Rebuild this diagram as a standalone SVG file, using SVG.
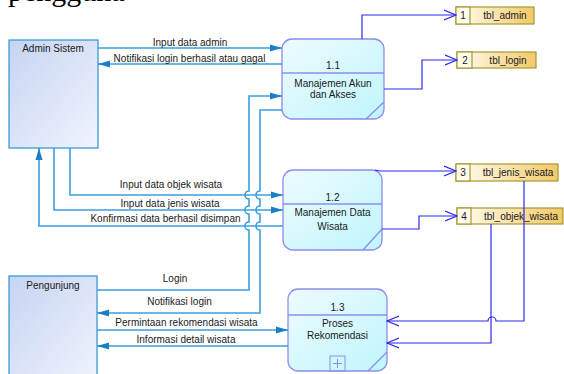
<svg xmlns="http://www.w3.org/2000/svg" width="564" height="374" viewBox="0 0 564 374">
<style>
text{font-family:"Liberation Sans",Arial,sans-serif;font-size:10px;fill:#1a1a1a}
.c{text-anchor:middle}
.ent{stroke:#3a9ad8;stroke-width:1.3}
.proc{stroke:#8c8cf0;stroke-width:1.3}
.store{stroke:#a39a34;stroke-width:1.2}
.ef{fill:none;stroke:#3a9ee0;stroke-width:1.6}
.sf{fill:none;stroke:#2a2af0;stroke-width:1.2}
</style>
<defs>
<linearGradient id="gEnt" x1="0" y1="0" x2="1" y2="1">
<stop offset="0" stop-color="#c6d4f2"/><stop offset="1" stop-color="#f0f4fd"/>
</linearGradient>
<linearGradient id="gProc" x1="0" y1="0" x2="1" y2="1">
<stop offset="0" stop-color="#eefbfe"/><stop offset="1" stop-color="#bff6fd"/>
</linearGradient>
<linearGradient id="gStore" x1="0" y1="0" x2="1" y2="0">
<stop offset="0" stop-color="#fffdf2"/><stop offset="1" stop-color="#f3c968"/>
</linearGradient>
<marker id="ah" markerWidth="12" markerHeight="8" refX="12" refY="4" orient="auto" markerUnits="userSpaceOnUse">
<path d="M0,0.5 L12,4 L0,7.5 z" fill="#1a7fc8"/>
</marker>
<marker id="ch" markerWidth="13" markerHeight="12" refX="12" refY="6" orient="auto" markerUnits="userSpaceOnUse">
<path d="M0,1 L12,6 L0,11" fill="none" stroke="#2a2af0" stroke-width="1.2"/>
</marker>
</defs>
<rect width="564" height="374" fill="#ffffff"/>
<text x="8" y="1" style="font-family:'Liberation Serif','Times New Roman',serif;font-size:30px;fill:#000">pengguna</text>

<g id="admin">
<rect class="ent" x="9" y="40" width="89" height="108" fill="url(#gEnt)"/>
<text class="c" x="53" y="51.5">Admin Sistem</text>
</g>
<g id="pengunjung">
<rect class="ent" x="9" y="276" width="88" height="110" fill="url(#gEnt)"/>
<text class="c" x="53" y="288.5">Pengunjung</text>
</g>

<g id="p11">
<rect class="proc" x="282" y="39" width="102" height="80" rx="10" fill="url(#gProc)"/>
<line class="proc" x1="282" y1="73" x2="384" y2="73"/>
<line class="proc" x1="384" y1="102" x2="366" y2="119"/>
<text class="c" x="333" y="68.5">1.1</text>
<text class="c" x="333" y="86.5">Manajemen Akun</text>
<text class="c" x="333" y="97.5">dan Akses</text>
</g>
<g id="p12">
<rect class="proc" x="283" y="170" width="99" height="80" rx="10" fill="url(#gProc)"/>
<line class="proc" x1="283" y1="204" x2="382" y2="204"/>
<line class="proc" x1="382" y1="229" x2="363" y2="250"/>
<text class="c" x="332.5" y="200.5">1.2</text>
<text class="c" x="332.5" y="215.5">Manajemen Data</text>
<text class="c" x="332.5" y="229.5">Wisata</text>
</g>
<g id="p13">
<rect class="proc" x="288" y="289" width="99" height="82" rx="10" fill="url(#gProc)"/>
<line class="proc" x1="288" y1="315" x2="387" y2="315"/>
<line class="proc" x1="387" y1="352" x2="368" y2="371"/>
<rect x="330" y="356" width="15" height="15" fill="none" stroke="#8c8cf0" stroke-width="1"/>
<path d="M337.5,359 V368 M333,363.5 H342" stroke="#8c8cf0" stroke-width="1"/>
<text class="c" x="337.5" y="310.5">1.3</text>
<text class="c" x="337.5" y="326.5">Proses</text>
<text class="c" x="337.5" y="338.5">Rekomendasi</text>
</g>

<g id="s1">
<rect class="store" x="456" y="7" width="78" height="17" fill="url(#gStore)"/>
<rect class="store" x="456" y="7" width="14" height="17" fill="#fffcee"/>
<text class="c" x="463" y="19">1</text>
<text class="c" x="505" y="19">tbl_admin</text>
</g>
<g id="s2">
<rect class="store" x="457" y="52" width="79" height="16" fill="url(#gStore)"/>
<rect class="store" x="457" y="52" width="15" height="16" fill="#fffcee"/>
<text class="c" x="465" y="63.5">2</text>
<text class="c" x="508" y="63.5">tbl_login</text>
</g>
<g id="s3">
<rect class="store" x="456" y="164" width="102" height="17" fill="url(#gStore)"/>
<rect class="store" x="456" y="164" width="14" height="17" fill="#fffcee"/>
<text class="c" x="463" y="176">3</text>
<text class="c" x="518" y="176">tbl_jenis_wisata</text>
</g>
<g id="s4">
<rect class="store" x="457" y="208" width="106" height="16" fill="url(#gStore)"/>
<rect class="store" x="457" y="208" width="14" height="16" fill="#fffcee"/>
<text class="c" x="464" y="219.5">4</text>
<text class="c" x="521" y="219.5">tbl_objek_wisata</text>
</g>

<g id="connectors">
<path class="ef" d="M98,48 H282" marker-end="url(#ah)"/>
<path class="ef" d="M282,64 H98" marker-end="url(#ah)"/>
<path class="ef" d="M70,148 V195 H283" marker-end="url(#ah)"/>
<path class="ef" d="M54,148 V210 H283" marker-end="url(#ah)"/>
<path class="ef" d="M283,226 H39 V148" marker-end="url(#ah)"/>
<path class="ef" d="M97,290 H249 V230 a4,4 0 0 1 0,-8 V214 a4,4 0 0 1 0,-8 V199 a4,4 0 0 1 0,-8 V96 H282" marker-end="url(#ah)"/>
<path class="ef" d="M282,110 H260 V191 a4,4 0 0 0 0,8 V206 a4,4 0 0 0 0,8 V222 a4,4 0 0 0 0,8 V313 H97" marker-end="url(#ah)"/>
<path class="ef" d="M97,330 H288" marker-end="url(#ah)"/>
<path class="ef" d="M288,346 H97" marker-end="url(#ah)"/>

<path class="sf" d="M362,39 V15 H456" marker-end="url(#ch)"/>
<path class="sf" d="M384,89 H422 V60 H457" marker-end="url(#ch)"/>
<path class="sf" d="M375,170 L380,171 H456" marker-end="url(#ch)"/>
<path class="sf" d="M382,229 H419 V216 H457" marker-end="url(#ch)"/>
<path class="sf" d="M524,181 V321 H496 a4,4 0 0 0 -8,0 H387" marker-end="url(#ch)"/>
<path class="sf" d="M491,224 V343 H387" marker-end="url(#ch)"/>

<text class="c" x="190" y="45.5">Input data admin</text>
<text class="c" x="189.5" y="61.5">Notifikasi login berhasil atau gagal</text>
<text class="c" x="171" y="187.5">Input data objek wisata</text>
<text class="c" x="170" y="207">Input data jenis wisata</text>
<text class="c" x="165.5" y="221.5">Konfirmasi data berhasil disimpan</text>
<text class="c" x="175" y="281.5">Login</text>
<text class="c" x="179.5" y="305">Notifikasi login</text>
<text class="c" x="186.5" y="325.5">Permintaan rekomendasi wisata</text>
<text class="c" x="186" y="342.5">Informasi detail wisata</text>
</g>
</svg>
